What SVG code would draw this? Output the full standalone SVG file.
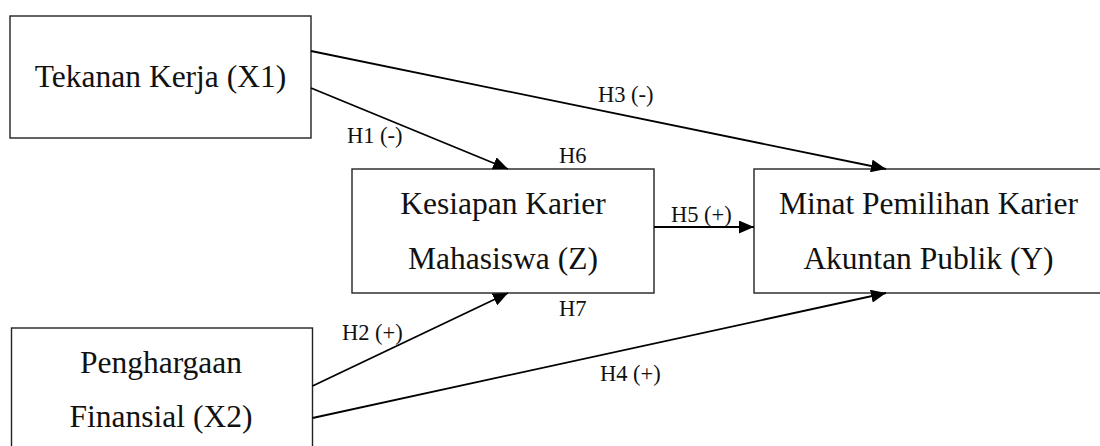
<svg xmlns="http://www.w3.org/2000/svg" width="1100" height="446" viewBox="0 0 1100 446">
<style>
.box{fill:#fff;stroke:#222;stroke-width:1.4}
.t{font-family:"Liberation Serif","Times New Roman",serif;font-size:31.5px;fill:#111;text-anchor:middle}
.l{font-family:"Liberation Serif","Times New Roman",serif;font-size:22.5px;fill:#111}
.c{stroke:#000;stroke-width:1.8;fill:none;marker-end:url(#ah)}
</style>
<defs>
<marker id="ah" markerUnits="userSpaceOnUse" markerWidth="16" markerHeight="13" refX="15" refY="6.5" orient="auto">
<path d="M0,0 L15,6.5 L0,13 z" fill="#000"/>
</marker>
</defs>
<rect width="1100" height="446" fill="#fff"/>
<g id="x1">
<rect class="box" x="10" y="16" width="301" height="122"/>
<text class="t" x="160.5" y="87">Tekanan Kerja (X1)</text>
</g>
<g id="z">
<rect class="box" x="352" y="169" width="302" height="124"/>
<text class="t" x="503" y="214">Kesiapan Karier</text>
<text class="t" x="503" y="269">Mahasiswa (Z)</text>
</g>
<g id="y">
<rect class="box" x="754" y="169" width="350" height="124"/>
<text class="t" x="928.5" y="214">Minat Pemilihan Karier</text>
<text class="t" x="928.5" y="269">Akuntan Publik (Y)</text>
</g>
<g id="x2">
<rect class="box" x="11.5" y="328" width="301" height="130"/>
<text class="t" x="161" y="373">Penghargaan</text>
<text class="t" x="161" y="427">Finansial (X2)</text>
</g>
<g id="connectors">
<path class="c" d="M311,51 L886,169"/>
<path class="c" d="M311,88 L508,169"/>
<path class="c" d="M312.5,386 L508,293"/>
<path class="c" d="M312.5,418 L886,293"/>
<path class="c" d="M654,227 L754,227"/>
</g>
<g id="labels">
<text class="l" x="598" y="101.5">H3 (-)</text>
<text class="l" x="347" y="143">H1 (-)</text>
<text class="l" x="559" y="162.5">H6</text>
<text class="l" x="671" y="222">H5 (+)</text>
<text class="l" x="559" y="315.5">H7</text>
<text class="l" x="342" y="340">H2 (+)</text>
<text class="l" x="600" y="381">H4 (+)</text>
</g>
</svg>
